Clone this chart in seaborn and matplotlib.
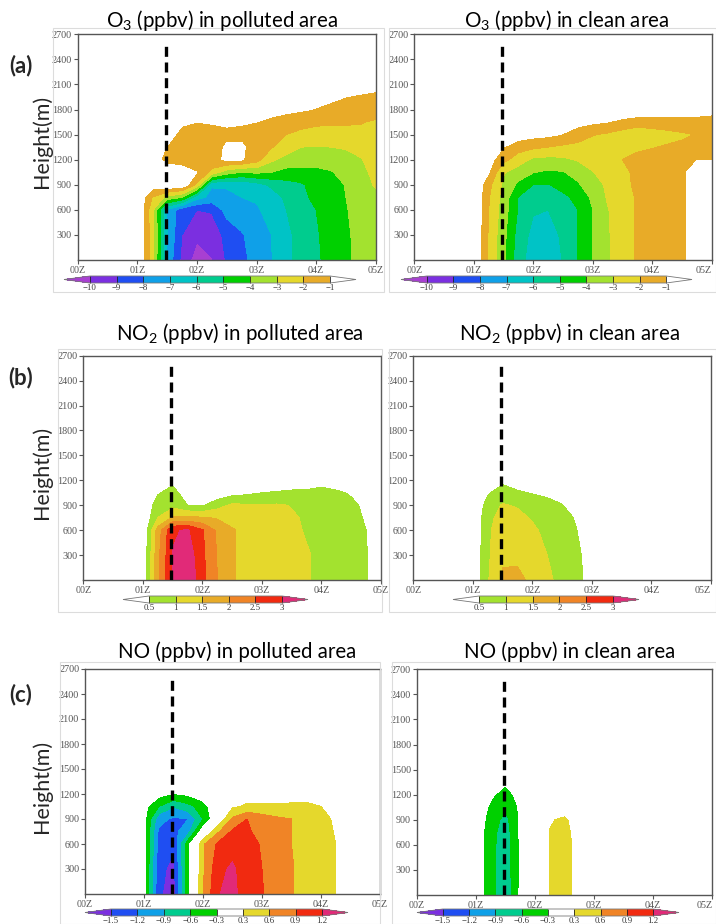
import numpy as np
import matplotlib
matplotlib.use("Agg")
import matplotlib.pyplot as plt
from matplotlib.colors import ListedColormap, BoundaryNorm
from matplotlib.patches import Rectangle
import seaborn as sns

# ---- data (hours after 00Z, heights in m) ----
HOURS = [1.0, 1.25, 1.5, 1.75, 2.0, 2.25, 2.5, 2.75, 3.0, 3.25, 3.5, 3.75, 4.0, 4.25, 4.5, 4.75, 5.0]
TICK_HOURS = [0, 1, 2, 3, 4, 5]
TICK_LABELS = ["00Z", "01Z", "02Z", "03Z", "04Z", "05Z"]
HEIGHT_TICKS = [300, 600, 900, 1200, 1500, 1800, 2100, 2400, 2700]
EVENT_HOUR = 1.48
EVENT_TOP = 2600

O3_HEIGHTS = [0, 300, 600, 750, 900, 1050, 1200, 1350, 1500, 1650, 1800, 1950, 2100]
O3_POLLUTED = [
    [0, -2.5, -7.2, -9.3, -10.5, -10.05, -8.9, -8.3, -7.6, -7.05, -6.2, -5.7, -5.15, -4.7, -4.2, -3.7, -3.4],
    [0, -2.5, -7.0, -9.0, -9.8, -9.6, -8.7, -8.1, -7.5, -7.0, -6.2, -5.7, -5.1, -4.65, -4.15, -3.7, -3.4],
    [0, -2.6, -7.1, -8.6, -9.0, -8.9, -7.6, -7.35, -7.1, -6.7, -6.0, -5.5, -5.0, -4.6, -4.05, -3.7, -3.3],
    [0, -2.0, -3.3, -4.0, -6.6, -7.3, -7.2, -7.0, -6.9, -6.5, -5.8, -5.3, -4.7, -4.4, -4.0, -3.6, -3.2],
    [0, -0.5, -0.1, -0.2, -2.2, -6.9, -6.9, -6.8, -6.4, -5.8, -5.4, -5.1, -4.7, -4.4, -3.95, -3.4, -2.9],
    [0, -0.3, -0.4, -0.5, -1.0, -2.3, -3.5, -4.0, -3.8, -4.0, -4.3, -4.5, -4.6, -4.1, -3.5, -3.2, -2.8],
    [0, -0.6, -1.3, -1.5, -1.6, -1.3, -0.85, -0.9, -1.6, -2.8, -3.4, -3.2, -3.05, -3.3, -3.2, -3.1, -2.3],
    [0, -0.3, -1.05, -1.6, -1.7, -1.5, -0.85, -0.8, -1.6, -1.95, -2.4, -3.0, -3.05, -3.0, -2.95, -2.5, -2.2],
    [0, -0.3, -0.5, -1.4, -1.5, -1.5, -1.3, -1.3, -1.5, -1.8, -2.0, -2.3, -2.4, -2.3, -2.3, -2.2, -2.1],
    [0, 0, -0.3, -0.8, -1.0, -0.9, -0.8, -0.9, -1.0, -1.2, -1.4, -1.6, -1.8, -1.9, -1.9, -1.95, -2.1],
    [0, 0, -0.2, -0.3, -0.4, -0.4, -0.4, -0.5, -0.6, -0.7, -0.8, -0.9, -1.05, -1.2, -1.3, -1.4, -1.6],
    [0, 0, -0.1, -0.2, -0.2, -0.2, -0.2, -0.3, -0.3, -0.4, -0.5, -0.6, -0.7, -0.85, -1.0, -1.15, -1.3],
    [0, 0, 0, 0, 0, 0, 0, 0, -0.1, -0.2, -0.2, -0.3, -0.3, -0.4, -0.4, -0.5, -0.6],
]

O3_CLEAN_HEIGHTS = [0, 300, 600, 750, 900, 1050, 1200, 1350, 1500, 1650, 1800]
O3_CLEAN = [
    [0, -2.1, -3.8, -5.6, -6.5, -6.7, -5.95, -5.0, -4.0, -3.1, -2.5, -1.9, -1.6, -1.5, -1.2, -0.5, -0.3],
    [0, -2.1, -3.7, -5.4, -6.3, -6.5, -5.8, -4.95, -4.0, -3.1, -2.5, -1.9, -1.6, -1.5, -1.2, -0.5, -0.3],
    [0, -2.0, -3.5, -5.1, -5.9, -6.0, -5.7, -5.0, -4.0, -3.05, -2.5, -1.9, -1.6, -1.5, -1.2, -0.5, -0.3],
    [0, -1.9, -3.4, -5.05, -5.4, -5.5, -5.25, -4.7, -3.8, -2.9, -2.4, -1.9, -1.6, -1.5, -1.2, -0.5, -0.3],
    [0, -1.7, -3.2, -4.2, -5.0, -5.05, -4.6, -4.1, -3.5, -2.8, -2.3, -1.8, -1.6, -1.5, -1.2, -0.5, -0.3],
    [0, -0.95, -2.9, -3.5, -3.95, -4.15, -4.05, -3.7, -3.05, -2.5, -2.2, -1.8, -1.6, -1.5, -1.2, -0.5, -0.3],
    [0, -0.6, -1.7, -2.5, -3.2, -3.3, -3.2, -2.9, -2.6, -2.3, -2.0, -1.7, -1.6, -1.5, -1.4, -1.05, -1.02],
    [0, -0.3, -1.0, -1.6, -1.8, -2.0, -2.2, -2.3, -2.4, -2.5, -2.4, -2.2, -2.05, -1.9, -1.8, -1.6, -1.5],
    [0, 0, -0.3, -0.5, -0.7, -0.8, -1.05, -1.5, -1.95, -2.15, -2.5, -3.02, -2.6, -2.35, -2.15, -1.95, -1.6],
    [0, 0, 0, -0.2, -0.3, -0.4, -0.5, -0.7, -0.85, -1.0, -1.2, -1.3, -1.35, -1.35, -1.3, -1.3, -1.4],
    [0, 0, 0, 0, 0, -0.1, -0.1, -0.2, -0.3, -0.4, -0.5, -0.6, -0.5, -0.6, -0.6, -0.65, -0.7],
]

NO2_HEIGHTS = [0, 300, 600, 750, 900, 1050, 1200, 1350]
NO2_POLLUTED = [
    [0, 1.9, 3.02, 3.45, 2.65, 2.0, 1.55, 1.35, 1.25, 1.15, 1.1, 1.02, 0.95, 0.85, 0.75, 0.55, 0],
    [0, 1.85, 3.02, 3.3, 2.6, 1.98, 1.55, 1.35, 1.25, 1.15, 1.1, 1.02, 0.95, 0.85, 0.75, 0.55, 0],
    [0, 1.7, 2.95, 3.05, 2.55, 1.9, 1.55, 1.35, 1.2, 1.12, 1.05, 0.98, 0.9, 0.8, 0.7, 0.5, 0],
    [0, 1.0, 1.55, 1.6, 1.55, 1.45, 1.3, 1.2, 1.15, 1.1, 1.05, 0.95, 0.85, 0.75, 0.65, 0.45, 0],
    [0, 0.75, 0.85, 0.5, 0.45, 0.8, 1.1, 1.05, 1.05, 1.05, 0.98, 0.8, 0.75, 0.7, 0.6, 0.4, 0],
    [0, 0.45, 0.7, 0.2, 0.15, 0.15, 0.3, 0.4, 0.5, 0.55, 0.6, 0.6, 0.62, 0.58, 0.45, 0.2, 0],
    [0, 0.1, 0.35, 0, 0, 0, 0, 0.05, 0.1, 0.1, 0.15, 0.2, 0.35, 0.2, 0.1, 0, 0],
    [0, 0, 0, 0, 0, 0, 0, 0, 0, 0, 0, 0, 0, 0, 0, 0, 0],
]
NO2_CLEAN = [
    [0, 0.95, 1.6, 1.62, 1.4, 1.1, 0.85, 0.6, 0.35, 0, 0, 0, 0, 0, 0, 0, 0],
    [0, 0.92, 1.4, 1.4, 1.25, 1.0, 0.8, 0.58, 0.3, 0, 0, 0, 0, 0, 0, 0, 0],
    [0, 0.9, 1.3, 1.25, 1.1, 0.85, 0.7, 0.5, 0.2, 0, 0, 0, 0, 0, 0, 0, 0],
    [0, 0.85, 1.2, 1.15, 0.95, 0.75, 0.65, 0.45, 0.1, 0, 0, 0, 0, 0, 0, 0, 0],
    [0, 0.7, 1.05, 0.95, 0.7, 0.65, 0.52, 0.2, 0, 0, 0, 0, 0, 0, 0, 0, 0],
    [0, 0.45, 0.7, 0.55, 0.48, 0.4, 0.3, 0.1, 0, 0, 0, 0, 0, 0, 0, 0, 0],
    [0, 0.1, 0.4, 0.3, 0.1, 0, 0, 0, 0, 0, 0, 0, 0, 0, 0, 0, 0],
    [0, 0, 0, 0, 0, 0, 0, 0, 0, 0, 0, 0, 0, 0, 0, 0, 0],
]

NO_HEIGHTS = [0, 300, 600, 750, 900, 1050, 1200, 1350, 1500]
NO_POLLUTED = [
    [-0.2, -1.45, -1.65, -0.4, 0.6, 1.18, 1.3, 1.0, 0.92, 0.75, 0.62, 0.5, 0.4, 0.3, 0.1, 0, 0],
    [-0.2, -1.4, -1.6, -0.4, 0.55, 1.1, 1.26, 0.98, 0.9, 0.75, 0.62, 0.5, 0.4, 0.3, 0.1, 0, 0],
    [-0.2, -1.3, -1.45, -0.4, 0.55, 0.95, 1.05, 0.98, 0.88, 0.75, 0.6, 0.5, 0.4, 0.3, 0.1, 0, 0],
    [-0.2, -1.25, -1.3, -1.0, -0.1, 0.55, 0.95, 0.92, 0.85, 0.72, 0.6, 0.48, 0.4, 0.28, 0.1, 0, 0],
    [-0.2, -1.1, -1.25, -1.2, -0.6, 0.0, 0.65, 0.9, 0.75, 0.65, 0.6, 0.45, 0.4, 0.25, 0.05, 0, 0],
    [-0.2, -0.6, -0.88, -0.7, -0.45, 0.0, 0.25, 0.35, 0.35, 0.35, 0.36, 0.38, 0.3, 0.1, 0, 0, 0],
    [0, -0.2, -0.32, -0.25, -0.1, 0, 0.05, 0.15, 0.15, 0.15, 0.15, 0.15, 0.1, 0, 0, 0, 0],
    [0, 0, 0, 0, 0, 0, 0, 0, 0, 0, 0, 0, 0, 0, 0, 0, 0],
    [0, 0, 0, 0, 0, 0, 0, 0, 0, 0, 0, 0, 0, 0, 0, 0, 0],
]
NO_CLEAN = [
    [-0.1, -0.5, -0.82, -0.25, 0, 0.31, 0.45, 0.15, 0, 0, 0, 0, 0, 0, 0, 0, 0],
    [-0.1, -0.5, -0.8, -0.27, 0, 0.31, 0.45, 0.15, 0, 0, 0, 0, 0, 0, 0, 0, 0],
    [-0.1, -0.5, -0.78, -0.27, 0, 0.31, 0.44, 0.15, 0, 0, 0, 0, 0, 0, 0, 0, 0],
    [-0.1, -0.48, -0.76, -0.25, 0, 0.31, 0.42, 0.12, 0, 0, 0, 0, 0, 0, 0, 0, 0],
    [-0.1, -0.42, -0.7, -0.25, 0, 0.27, 0.36, 0.1, 0, 0, 0, 0, 0, 0, 0, 0, 0],
    [-0.1, -0.35, -0.56, -0.25, 0, 0.05, 0.1, 0, 0, 0, 0, 0, 0, 0, 0, 0, 0],
    [0, -0.25, -0.42, -0.2, 0, 0, 0, 0, 0, 0, 0, 0, 0, 0, 0, 0, 0],
    [0, -0.1, -0.25, -0.1, 0, 0, 0, 0, 0, 0, 0, 0, 0, 0, 0, 0, 0],
    [0, 0, 0, 0, 0, 0, 0, 0, 0, 0, 0, 0, 0, 0, 0, 0, 0],
]

# contour levels and NCL-like colours
O3_LEVELS = [-10, -9, -8, -7, -6, -5, -4, -3, -2, -1]
O3_LABELS = ["\u221210", "\u22129", "\u22128", "\u22127", "\u22126", "\u22125", "\u22124", "\u22123", "\u22122", "\u22121"]
O3_COLORS = ["#7b2fe0", "#1f4ef2", "#0fa0e8", "#00c3c6", "#00cc8e", "#00d000", "#a3e22f", "#e5d82c", "#e8ab28"]
NO2_LEVELS = [0.5, 1, 1.5, 2, 2.5, 3]
NO2_LABELS = ["0.5", "1", "1.5", "2", "2.5", "3"]
NO2_COLORS = ["#a3e22f", "#e5d82c", "#e8ab28", "#f08426", "#f12a10"]
NO_LEVELS = [-1.5, -1.2, -0.9, -0.6, -0.3, 0.3, 0.6, 0.9, 1.2]
NO_LABELS = ["\u22121.5", "\u22121.2", "\u22120.9", "\u22120.6", "\u22120.3", "0.3", "0.6", "0.9", "1.2"]
NO_COLORS = ["#1f4ef2", "#0fa0e8", "#00cc8e", "#00d000", "#ffffff", "#e5d82c", "#f08426", "#f12a10"]

SCALES = {
    "o3": (O3_LEVELS, O3_LABELS, O3_COLORS, "#a83fd2", "#ffffff", 0.108),
    "no2": (NO2_LEVELS, NO2_LABELS, NO2_COLORS, "#ffffff", "#e12a78", 0.195),
    "no": (NO_LEVELS, NO_LABELS, NO_COLORS, "#7b2fe0", "#e12a78", 0.123),
}

sns.set_style("ticks")
plt.rcParams["font.family"] = ["Lato", "DejaVu Sans"]
plt.rcParams["mathtext.fontset"] = "custom"
plt.rcParams["mathtext.rm"] = "Lato"

W, H = 716, 924
fig = plt.figure(figsize=(W / 100, H / 100), dpi=100)


def rect(left, top, right, bottom):
    return [left / W, 1 - bottom / H, (right - left) / W, (bottom - top) / H]


def draw_panel(values, heights, scale, ax_box, cb_box, title, title_xy, right_col=False):
    levels, labels, colors, under, over, efrac = SCALES[scale]
    cmap = ListedColormap(sns.color_palette(colors))
    cmap.set_under(under)
    cmap.set_over(over)
    norm = BoundaryNorm(levels, cmap.N)

    ax = fig.add_axes(rect(*ax_box))
    cf = ax.contourf(HOURS, heights, np.array(values), levels=levels,
                     cmap=cmap, norm=norm, extend="both")
    sns.lineplot(x=[EVENT_HOUR, EVENT_HOUR], y=[0, EVENT_TOP], ax=ax, color="black",
                 linewidth=2.4, estimator=None, sort=False, zorder=5)
    ax.lines[-1].set_dashes((3.0, 1.7))
    ax.set_xlim(0, 5)
    ax.set_ylim(0, 2700)
    ax.set_xticks(TICK_HOURS, TICK_LABELS)
    ax.set_yticks(HEIGHT_TICKS)
    ax.set_xlabel("")
    ax.set_ylabel("")
    ax.tick_params(direction="out", length=3, width=0.8, labelsize=7.3, colors="#555",
                   pad=1.2, top=False, right=False)
    for lab in ax.get_xticklabels() + ax.get_yticklabels():
        lab.set_family("Liberation Serif")
    if right_col:
        ax.get_xticklabels()[-1].set_horizontalalignment("right")
    for sp in ax.spines.values():
        sp.set_color("#555")
        sp.set_linewidth(1.0)

    cax = fig.add_axes(rect(*cb_box))
    cb = fig.colorbar(cf, cax=cax, orientation="horizontal", extendfrac=efrac, drawedges=True)
    cb.set_ticks(levels, labels=labels)
    cb.outline.set_edgecolor("#777")
    cb.outline.set_linewidth(0.6)
    cb.dividers.set_color("#222")
    cb.dividers.set_linewidth(0.6)
    cax.tick_params(length=0, labelsize=6.3, pad=0.8, colors="#333")
    for lab in cax.get_xticklabels():
        lab.set_family("Liberation Serif")

    fig.text(title_xy[0] / W, 1 - title_xy[1] / H, title, ha="center", va="baseline",
             fontsize=14.8, color="black")


# light frames of the pasted sub-figures
for box in [(53, 28, 384, 292), (389, 28, 716, 292), (58, 349, 382, 612),
            (389, 349, 716, 612), (60, 662, 380, 924), (392, 662, 716, 924)]:
    l, t, r, b = box
    fig.add_artist(Rectangle((l / W, 1 - b / H), (r - l) / W, (b - t) / H,
                             transform=fig.transFigure, fill=False,
                             edgecolor="#dcdcdc", linewidth=0.8))

draw_panel(O3_POLLUTED, O3_HEIGHTS, "o3", (77.7, 34.3, 375.7, 260), (64, 276, 356, 283),
           r"O$_\mathregular{3}$ (ppbv) in polluted area", (222, 27))
draw_panel(O3_CLEAN, O3_CLEAN_HEIGHTS, "o3", (414.3, 34.3, 711.7, 260), (401, 276, 692, 283),
           r"O$_\mathregular{3}$ (ppbv) in clean area", (567, 27), right_col=True)
draw_panel(NO2_POLLUTED, NO2_HEIGHTS, "no2", (83.3, 355.7, 381, 580), (123, 596, 308, 603),
           r"NO$_\mathregular{2}$ (ppbv) in polluted area", (240, 340.5))
draw_panel(NO2_CLEAN, NO2_HEIGHTS, "no2", (413.3, 355.7, 711, 580), (453, 596, 639, 603),
           r"NO$_\mathregular{2}$ (ppbv) in clean area", (569, 340.5), right_col=True)
draw_panel(NO_POLLUTED, NO_HEIGHTS, "no", (85, 669, 380, 894), (85, 909, 348, 916),
           "NO (ppbv) in polluted area", (237, 657.5))
draw_panel(NO_CLEAN, NO_HEIGHTS, "no", (416.7, 669.3, 712.3, 895), (417, 909, 679, 916),
           "NO (ppbv) in clean area", (570, 657.5), right_col=True)

for lab, y in [("(a)", 66), ("(b)", 378), ("(c)", 695)]:
    fig.text(21 / W, 1 - y / H, lab, ha="center", va="center", fontsize=16, fontweight="bold")
for y in [141, 472, 786]:
    fig.text(41.5 / W, 1 - y / H, "Height(m)", ha="center", va="center", rotation=90, fontsize=15.5)

fig.savefig("out.png", dpi=100)
